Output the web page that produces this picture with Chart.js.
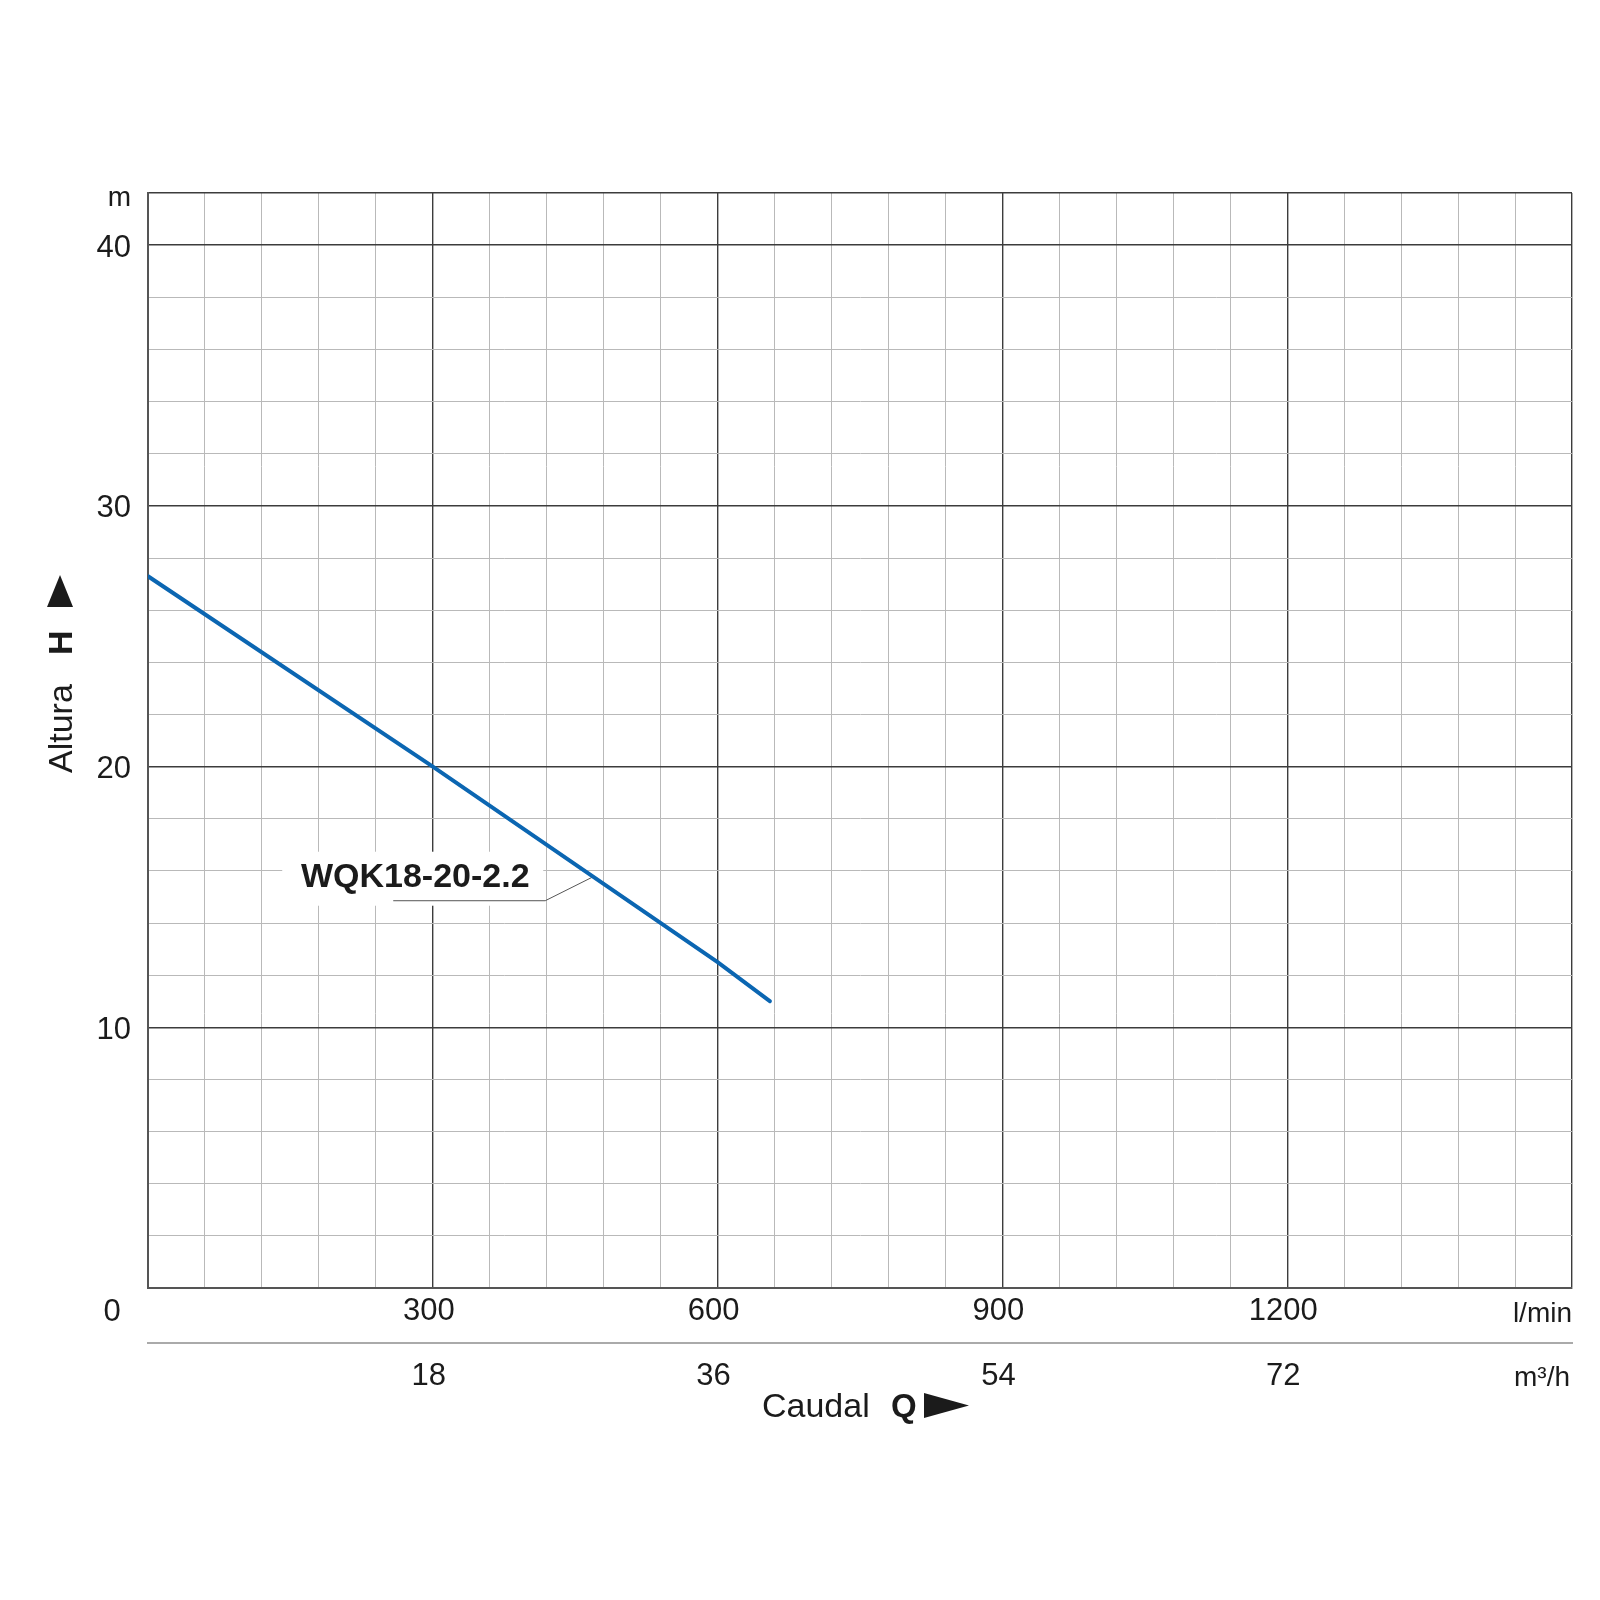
<!DOCTYPE html>
<html>
<head>
<meta charset="utf-8">
<script src="https://cdn.jsdelivr.net/npm/chart.js@4.4.1/dist/chart.umd.min.js"></script>
<style>
  html, body { margin: 0; padding: 0; background: #fff; }
</style>
</head>
<body>
<canvas id="chart" width="1600" height="1600"></canvas>
<script>
// pump curve
const flowLpm = [0, 300, 600, 655];
const headM = [27.3, 20.0, 12.5, 11.0];

const flowTicks = [300, 600, 900, 1200];
const flowM3hTicks = [18, 36, 54, 72];
const headTicks = [10, 20, 30, 40];

const curveName = "WQK18-20-2.2";
const labelAtFlow = 469;

const FONT = "'Liberation Sans', Arial, sans-serif";
const INK = "#1b1b1b";
const MAJOR = "#3c3c3c";
const MINOR = "#b9b9b9";

Chart.defaults.font.family = FONT;
Chart.defaults.color = INK;

function headAt(q) {
  for (let i = 1; i < flowLpm.length; i++) {
    if (q <= flowLpm[i]) {
      const t = (q - flowLpm[i - 1]) / (flowLpm[i] - flowLpm[i - 1]);
      return headM[i - 1] + t * (headM[i] - headM[i - 1]);
    }
  }
  return headM[headM.length - 1];
}

const decor = {
  id: "decor",
  beforeDatasetsDraw(chart) {
    const { ctx, scales: { x, y } } = chart;
    const px = x.getPixelForValue(labelAtFlow);
    const py = y.getPixelForValue(headAt(labelAtFlow));
    ctx.save();
    // white patch behind the name
    ctx.fillStyle = "#fff";
    ctx.fillRect(px - 311, py - 25, 261, 54);
    // leader
    ctx.strokeStyle = "#555";
    ctx.lineWidth = 1;
    ctx.beginPath();
    ctx.moveTo(px, py);
    ctx.lineTo(px - 48, py + 24);
    ctx.lineTo(px - 200, py + 24);
    ctx.stroke();
    ctx.fillStyle = INK;
    ctx.font = "bold 34px " + FONT;
    ctx.textAlign = "center";
    ctx.textBaseline = "middle";
    ctx.fillText(curveName, px - 178, py + 1);
    ctx.restore();
  },
  afterDraw(chart) {
    const { ctx, chartArea: a } = chart;
    ctx.save();
    ctx.fillStyle = INK;
    ctx.textBaseline = "alphabetic";

    ctx.font = "31px " + FONT;
    ctx.textAlign = "center";
    ctx.fillText("0", 112, 1321);

    ctx.font = "28px " + FONT;
    ctx.textAlign = "right";
    ctx.fillText("m", 131, 206);
    ctx.fillText("l/min", a.right, 1322);
    ctx.fillText("m\u00b3/h", a.right - 2, 1386);

    // x title
    ctx.textAlign = "left";
    ctx.font = "34px " + FONT;
    ctx.fillText("Caudal", 762, 1417);
    ctx.font = "bold 33px " + FONT;
    ctx.fillText("Q", 891, 1417);
    ctx.beginPath();
    ctx.moveTo(924, 1393);
    ctx.lineTo(969, 1405.5);
    ctx.lineTo(924, 1418);
    ctx.closePath();
    ctx.fill();

    // y title
    ctx.translate(72, 773);
    ctx.rotate(-Math.PI / 2);
    ctx.font = "34px " + FONT;
    ctx.fillText("Altura", 0, 0);
    ctx.font = "bold 34px " + FONT;
    ctx.fillText("H", 118, 0);
    ctx.beginPath();
    ctx.moveTo(166, 1);
    ctx.lineTo(198, -12);
    ctx.lineTo(166, -25);
    ctx.closePath();
    ctx.fill();
    ctx.restore();
  }
};

new Chart(document.getElementById("chart"), {
  type: "line",
  data: {
    datasets: [{
      label: curveName,
      data: flowLpm.map((q, i) => ({ x: q, y: headM[i] })),
      borderColor: "#0b66b2",
      borderWidth: 4,
      borderCapStyle: "round",
      pointRadius: 0,
      tension: 0,
      fill: false
    }]
  },
  options: {
    responsive: false,
    animation: false,
    devicePixelRatio: 1,
    layout: { padding: { top: 193, right: 28, left: 0, bottom: 0 } },
    plugins: { legend: { display: false }, tooltip: { enabled: false } },
    scales: {
      x: {
        type: "linear",
        position: "bottom",
        min: 0,
        max: 1500,
        afterFit: s => { s.height = 55; },
        grid: {
          drawTicks: false,
          color: c => (c.tick && c.tick.value % 300 === 0) ? MAJOR : MINOR,
          lineWidth: c => (c.tick && c.tick.value % 300 === 0) ? 1.4 : 1
        },
        border: { color: "#555", width: 2 },
        ticks: {
          stepSize: 60,
          autoSkip: false,
          maxRotation: 0,
          padding: 5,
          labelOffset: -4,
          font: { size: 31 },
          callback: v => flowTicks.includes(v) ? String(v) : ""
        }
      },
      x2: {
        type: "linear",
        position: "bottom",
        min: 0,
        max: 90,
        afterFit: s => { s.height = 257; },
        afterBuildTicks: s => { s.ticks = flowM3hTicks.map(v => ({ value: v })); },
        grid: { display: false, drawTicks: false },
        border: { color: "#aaa", width: 2 },
        ticks: {
          autoSkip: false,
          maxRotation: 0,
          padding: 15,
          labelOffset: -4,
          font: { size: 31 },
          callback: v => String(v)
        }
      },
      y: {
        type: "linear",
        min: 0,
        max: 42,
        afterFit: s => { s.width = 148; },
        grid: {
          drawTicks: false,
          color: c => (c.tick && (c.tick.value % 10 === 0 || c.tick.value === 42)) ? MAJOR : MINOR,
          lineWidth: c => (c.tick && (c.tick.value % 10 === 0 || c.tick.value === 42)) ? 1.4 : 1
        },
        border: { color: "#555", width: 2 },
        ticks: {
          stepSize: 2,
          autoSkip: false,
          padding: 17,
          labelOffset: 3,
          font: { size: 31 },
          callback: v => headTicks.includes(v) ? String(v) : ""
        }
      }
    }
  },
  plugins: [decor]
});
</script>
</body>
</html>
